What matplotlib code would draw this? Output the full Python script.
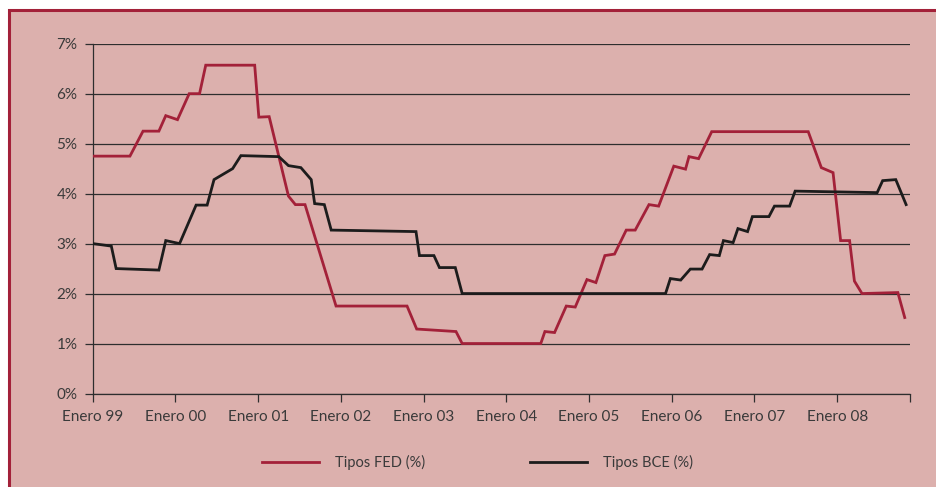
import matplotlib
matplotlib.use("Agg")
import matplotlib.pyplot as plt
from matplotlib.patches import Rectangle

# Interest rate series, months counted from January 1999
fed_month = [0, 5.4, 7.3, 9.6, 10.6, 12.3, 14.0, 15.5, 16.4, 23.5, 24.1, 25.6,
             28.4, 29.4, 30.8, 35.3, 45.6, 47.0, 52.7, 53.6, 65.0, 65.6, 67.0,
             68.7, 70.0, 71.7, 73.0, 74.3, 75.7, 77.4, 78.7, 80.7, 82.1, 84.3,
             86.0, 86.5, 87.9, 89.8, 103.8, 105.7, 107.4, 108.5, 109.8, 110.5,
             111.6, 116.8, 117.8]
fed_rate = [4.75, 4.75, 5.25, 5.25, 5.56, 5.48, 6.0, 6.0, 6.57, 6.57, 5.53, 5.54,
            3.95, 3.78, 3.78, 1.75, 1.75, 1.29, 1.24, 1.0, 1.0, 1.24, 1.22,
            1.75, 1.73, 2.28, 2.22, 2.76, 2.79, 3.27, 3.27, 3.78, 3.75, 4.55,
            4.49, 4.74, 4.70, 5.24, 5.24, 4.52, 4.42, 3.06, 3.06, 2.25,
            2.0, 2.02, 1.52]

bce_month = [0, 2.7, 3.4, 9.6, 10.6, 12.6, 15.0, 16.6, 17.6, 20.3, 21.5, 27.0,
             28.4, 30.2, 31.7, 32.2, 33.6, 34.6, 46.9, 47.4, 49.5, 50.3, 52.6,
             53.6, 83.1, 83.8, 85.3, 86.7, 88.4, 89.5, 90.9, 91.5, 92.9, 93.6,
             95.0, 95.7, 98.1, 98.9, 101.1, 101.9, 113.8, 114.6, 116.5, 118.0]
bce_rate = [3.0, 2.95, 2.5, 2.47, 3.06, 3.0, 3.77, 3.77, 4.28, 4.5, 4.76, 4.74,
            4.56, 4.52, 4.28, 3.8, 3.78, 3.27, 3.24, 2.76, 2.76, 2.52, 2.52,
            2.0, 2.0, 2.3, 2.27, 2.49, 2.49, 2.78, 2.76, 3.06, 3.02, 3.3,
            3.24, 3.54, 3.54, 3.75, 3.75, 4.05, 4.02, 4.26, 4.28, 3.78]

x_tick_months = [0, 12, 24, 36, 48, 60, 72, 84, 96, 108]
x_tick_labels = ["Enero 99", "Enero 00", "Enero 01", "Enero 02", "Enero 03",
                 "Enero 04", "Enero 05", "Enero 06", "Enero 07", "Enero 08"]
y_ticks = [0, 1, 2, 3, 4, 5, 6, 7]
y_tick_labels = ["0%", "1%", "2%", "3%", "4%", "5%", "6%", "7%"]

series_names = ["Tipos FED (%)", "Tipos BCE (%)"]

PINK = "#dcb0ad"
RED = "#a32139"
DARK = "#1c1c1c"
GRID = "#2e2e2e"
TEXT = "#3a3a3a"

plt.rcParams["font.family"] = ["Lato", "DejaVu Sans"]

W, H = 937, 487
fig = plt.figure(figsize=(W / 100, H / 100), dpi=100, facecolor="white")

# Pink panel with a red frame along its top and left edges
fig.patches.append(Rectangle((9.3 / W, -0.2), 1.2, 0.2 + (H - 10.3) / H,
                             transform=fig.transFigure, facecolor=PINK,
                             edgecolor=RED, linewidth=2.2, zorder=-10))

ax = fig.add_axes([92.7 / W, (H - 393.5) / H, (909.5 - 92.7) / W, (393.5 - 43.7) / H])
ax.patch.set_visible(False)

ax.plot(fed_month, fed_rate, color=RED, lw=2.0, solid_joinstyle="miter",
        label=series_names[0], zorder=3)
ax.plot(bce_month, bce_rate, color=DARK, lw=2.0, solid_joinstyle="miter",
        label=series_names[1], zorder=3)

ax.set_xlim(0, (909.3 - 92.7) / (82.7 / 12))
ax.set_ylim(0, 7)

ax.set_yticks(y_ticks)
ax.set_yticklabels(y_tick_labels)
ax.set_xticks(x_tick_months + [ax.get_xlim()[1]])
ax.set_xticklabels(x_tick_labels + [""])

ax.yaxis.grid(True, color=GRID, lw=0.9)
ax.set_axisbelow(True)

for side in ("top", "right"):
    ax.spines[side].set_visible(False)
for side in ("left", "bottom"):
    ax.spines[side].set_color(GRID)
    ax.spines[side].set_linewidth(0.9)

ax.tick_params(axis="both", direction="out", length=6, width=0.9, color=GRID,
               labelcolor=TEXT, labelsize=11)
ax.tick_params(axis="x", pad=6)
ax.tick_params(axis="y", pad=5)

leg = fig.legend(loc="center", bbox_to_anchor=(0.51, (H - 462.5) / H), ncol=2,
                 frameon=False, fontsize=10.5, handlelength=3.9,
                 handletextpad=1.1, columnspacing=7.2, labelcolor=TEXT)
for line in leg.get_lines():
    line.set_linewidth(2.0)

fig.savefig("out.png", dpi=100, facecolor="white")
